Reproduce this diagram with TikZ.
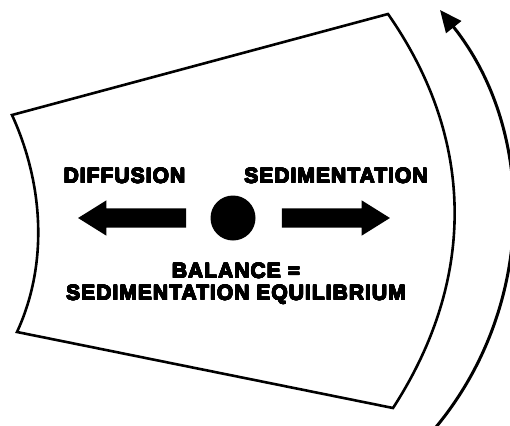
\documentclass[tikz,border=0pt]{standalone}
\usepackage{fontspec}
\setmainfont{Liberation Sans}
\newfontfamily\heavyfont{Liberation Sans}[LetterSpace=5]
\usepackage[copies]{contour}
\contourlength{0.45pt}
\contournumber{16}
\newcommand{\heavy}[1]{\contour{black}{#1}}
\usetikzlibrary{arrows.meta,positioning,shapes.arrows}

\begin{document}
\begin{tikzpicture}[
      x=1pt, y=-1pt,
      bigtext/.style={
          font=\fontsize{21}{22}\selectfont\heavyfont\bfseries,
          inner sep=0pt, anchor=base, align=center
        },
      blockarrow/.style={
          single arrow, fill, draw=none, inner xsep=0pt, inner ysep=9.5pt,
          minimum height=108pt,
          single arrow head extend=8pt, single arrow tip angle=64
        },
      particle/.style={circle, fill, inner sep=0pt, minimum size=45pt},
      wall/.style={line width=2.6pt, line join=miter},
      rotation/.style={line width=3pt, -{Triangle[length=22pt,width=19pt]}},
    ]
    \useasboundingbox (0,0) rectangle (510,425);
    \clip (0,0) rectangle (510,425);

    % sector of the cell
    \draw[wall] (12,115) -- (388,14)
      .. controls (476,140) and (476,280) .. (393,408)
      -- (17,332)
      .. controls (48,265) and (44,185) .. cycle;

    % direction of rotation
    \coordinate (rotc) at (181,216);
    \draw[rotation] ([shift={(40:331)}]rotc) arc[start angle=40, end angle=-38.5, radius=331];

    \node[particle] (dot) at (233,218) {};
    \node[blockarrow, shape border rotate=180, left=24pt of dot] (diffarrow) {};
    \node[blockarrow, right=26pt of dot] (sedarrow) {};

    \node[bigtext] (diff) at (124.5,183) {\heavy{DIFFUSION}};
    \node[bigtext] (sedi) at (336,183) {\heavy{SEDIMENTATION}};
    \node[bigtext] (bal) at (236,300) {\heavy{BALANCE =}\\\heavy{SEDIMENTATION EQUILIBRIUM}};
  \end{tikzpicture}
\end{document}
